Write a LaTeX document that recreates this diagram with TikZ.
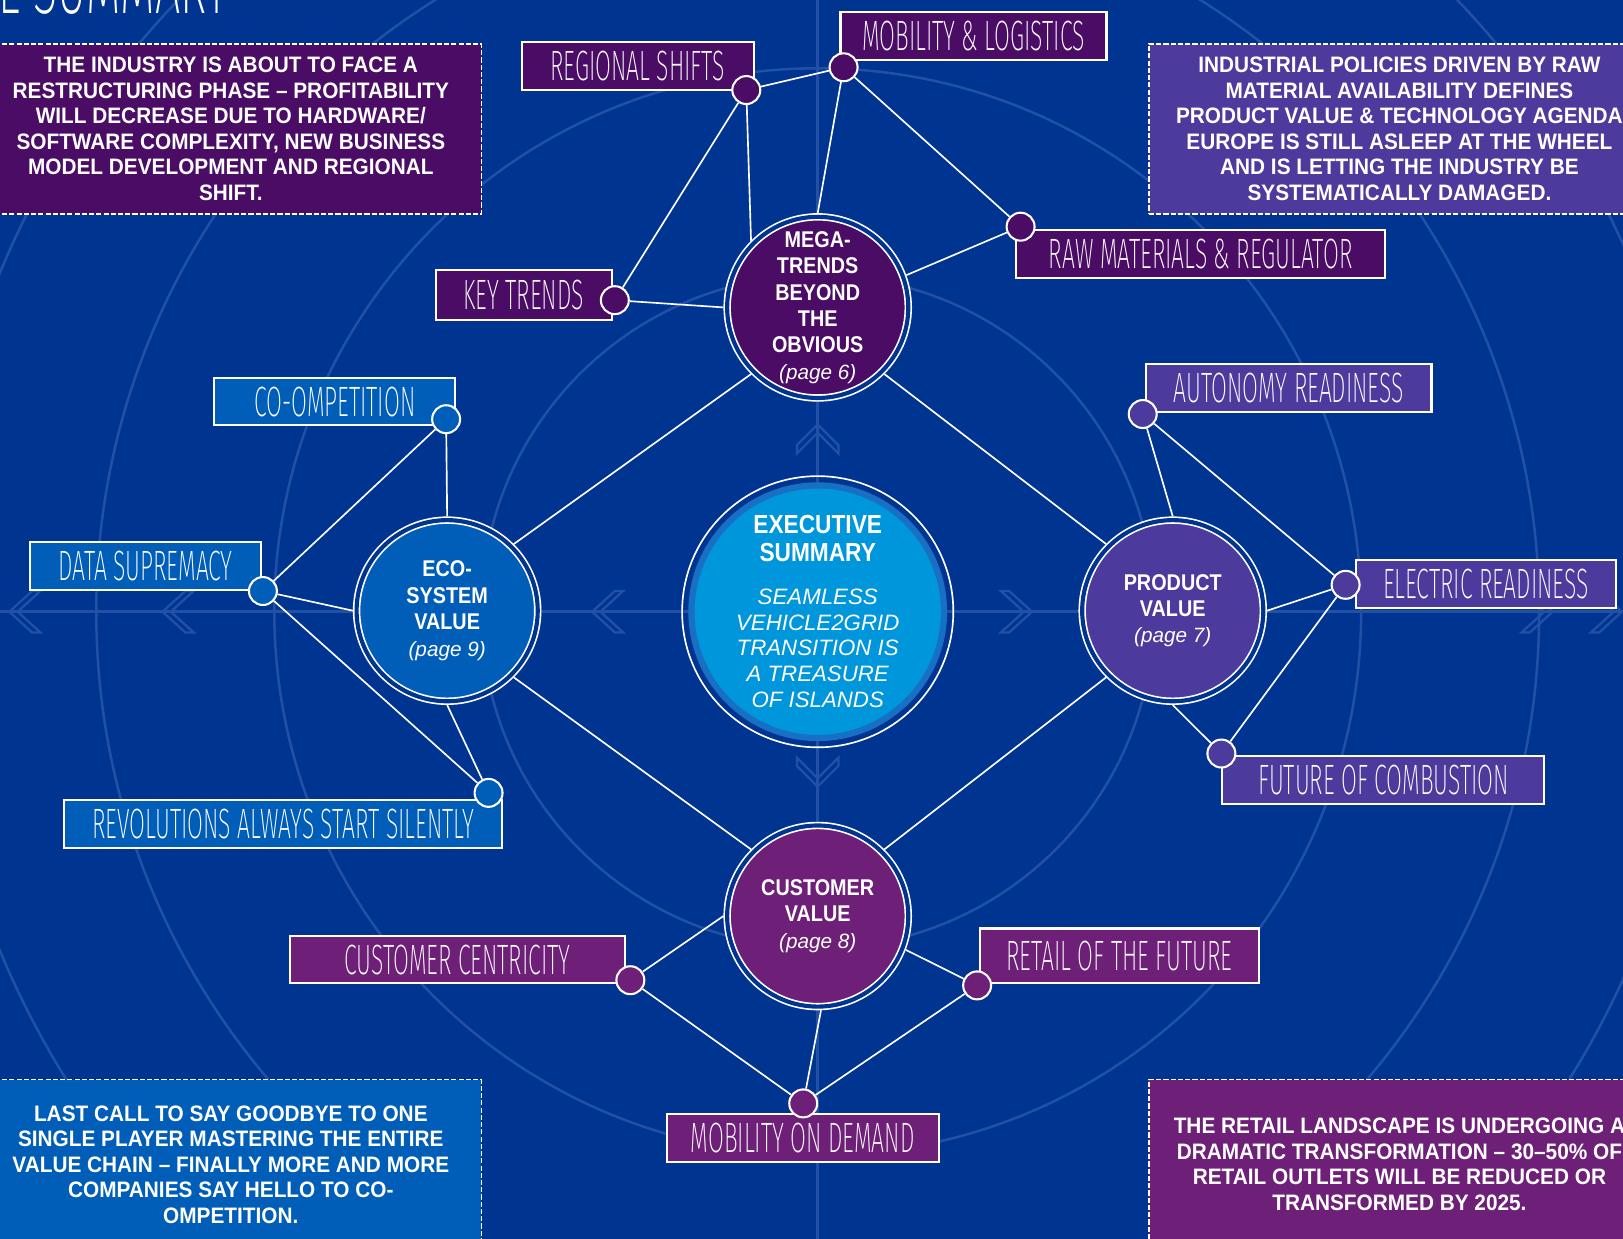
\documentclass[tikz,border=0pt]{standalone}
\usepackage{fontspec}
\setmainfont{Liberation Sans}
\IfFontExistsTF{Fira Sans ExtraLight}
  {\newfontfamily\thinfont{Fira Sans ExtraLight}[FakeStretch=0.54]}
  {\IfFontExistsTF{Fira Sans Light}
    {\newfontfamily\thinfont{Fira Sans Light}[FakeStretch=0.54]}
    {\newfontfamily\thinfont{Fira Sans}[FakeStretch=0.52]}}
\newfontfamily\narrowfont{Liberation Sans}[FakeStretch=0.87]
\newfontfamily\notefont{Liberation Sans}[FakeStretch=0.93]

\definecolor{sfondo}{RGB}{0,52,145}
\definecolor{lineefondo}{RGB}{34,80,165}
\definecolor{viola}{RGB}{74,12,100}
\definecolor{lilla}{RGB}{76,58,156}
\definecolor{prugna}{RGB}{110,32,120}
\definecolor{azzurro}{RGB}{0,94,184}
\definecolor{ciano}{RGB}{0,150,219}
\definecolor{cianoscuro}{RGB}{24,112,196}

\pgfdeclarelayer{fondo}
\pgfdeclarelayer{dietro}
\pgfsetlayers{fondo,dietro,main}

\newcommand\pagina[1]{{\normalfont\itshape\fontsize{10}{12.75}\selectfont(page #1)}}
\newcommand\titolo[1]{{\narrowfont\bfseries\upshape\fontsize{12.6}{13.5}\selectfont #1}}

\begin{document}
\begin{tikzpicture}[x=0.5pt,y=-0.5pt,
    valore/.style={circle, draw=white, double=sfondo, double distance=2pt, line width=0.8pt,
      minimum size=87.5pt, inner sep=0pt, outer sep=1.8pt, align=center, text=white,
      font=\narrowfont\bfseries\fontsize{11}{12.75}\selectfont},
    tema/.style={draw=white, line width=1pt, minimum height=23pt, inner sep=0pt, text=white,
      font=\thinfont\fontsize{20.5}{22}\selectfont},
    punto/.style={circle, draw=white, line width=1pt, minimum size=13.5pt, inner sep=0pt},
    nota/.style={draw=white, dash pattern=on 2.5pt off 1pt, line width=0.75pt,
      minimum width=242pt, minimum height=82pt, inner sep=0pt, align=center, text=white,
      font=\notefont\bfseries\fontsize{10.8}{12.35}\selectfont},
    collega/.style={draw=white, line width=0.8pt},
    traccia/.style={draw=lineefondo, line width=1.2pt},
    freccia/.style={draw=lineefondo, line width=1.1pt}
  ]
  \useasboundingbox (0,0) rectangle (1568,1197);

  % Cerchi principali
  \node[circle, fill=ciano, draw=cianoscuro, line width=3pt, minimum size=122pt, inner sep=0pt,
    align=center, text=white, font=\normalfont\itshape\fontsize{10.75}{12.5}\selectfont]
    (centro) at (790,591) {\titolo{EXECUTIVE}\\[1pt] \titolo{SUMMARY}\\[8pt]
    SEAMLESS\\ VEHICLE2GRID\\ TRANSITION IS\\ A TREASURE\\ OF ISLANDS};
  \draw[white, line width=0.8pt] (centro.center) circle (131);

  \node[valore, fill=viola] (mega) at (790,297) {MEGA-\\TRENDS\\BEYOND\\THE\\OBVIOUS\\\pagina{6}};
  \node[valore, fill=azzurro] (eco) at (432,590) {ECO-\\SYSTEM\\VALUE\\\pagina{9}};
  \node[valore, fill=lilla] (prodotto) at (1133,590) {PRODUCT\\VALUE\\\pagina{7}};
  \node[valore, fill=prugna] (cliente) at (790,885) {CUSTOMER\\VALUE\\\pagina{8}};

  % Temi in alto
  \node[tema, fill=viola, minimum width=112pt] (shifts) at (616,64) {REGIONAL SHIFTS};
  \node[tema, fill=viola, minimum width=128.5pt] (logistics) at (940.5,35) {MOBILITY \& LOGISTICS};
  \node[tema, fill=viola, minimum width=85pt, minimum height=24pt] (trends) at (506,285) {KEY TRENDS};
  \node[tema, fill=viola, minimum width=178pt] (raw) at (1160,245.5) {RAW MATERIALS \& REGULATOR};
  \node[punto, fill=viola] (shiftsdot) at (721,87) {};
  \node[punto, fill=viola] (logisticsdot) at (815,65) {};
  \node[punto, fill=viola] (rawdot) at (986,219) {};
  \node[punto, fill=viola] (trendsdot) at (594,290) {};

  % Temi a sinistra
  \node[tema, fill=azzurro, minimum width=116.5pt] (coomp) at (323.5,388) {CO-OMPETITION};
  \node[tema, fill=azzurro, minimum width=111.5pt] (data) at (140.5,547) {DATA SUPREMACY};
  \node[tema, fill=azzurro, minimum width=211.5pt] (revolutions) at (273.5,796) {REVOLUTIONS ALWAYS START SILENTLY};
  \node[punto, fill=azzurro] (coompdot) at (431,405) {};
  \node[punto, fill=azzurro] (datadot) at (254,571) {};
  \node[punto, fill=azzurro] (revolutionsdot) at (472,766) {};

  % Temi a destra
  \node[tema, fill=lilla, minimum width=138pt] (autonomy) at (1245,375) {AUTONOMY READINESS};
  \node[tema, fill=lilla, minimum width=125.5pt] (electric) at (1435.5,564) {ELECTRIC READINESS};
  \node[tema, fill=lilla, minimum width=155.5pt, minimum height=23.5pt] (combustion) at (1336.5,753.5) {FUTURE OF COMBUSTION};
  \node[punto, fill=lilla] (autonomydot) at (1104,400) {};
  \node[punto, fill=lilla] (electricdot) at (1300,565) {};
  \node[punto, fill=lilla] (combustiondot) at (1180,728) {};

  % Temi in basso
  \node[tema, fill=prugna, minimum width=162pt] (centricity) at (442,927) {CUSTOMER CENTRICITY};
  \node[tema, fill=prugna, minimum width=134.5pt, minimum height=26.5pt] (retail) at (1081.5,923.5) {RETAIL OF THE FUTURE};
  \node[tema, fill=prugna, minimum width=131.5pt, minimum height=23.5pt] (demand) at (775.5,1099.5) {MOBILITY ON DEMAND};
  \node[punto, fill=prugna] (centricitydot) at (609,947) {};
  \node[punto, fill=prugna] (retaildot) at (944,952) {};
  \node[punto, fill=prugna] (demanddot) at (776,1066) {};

  % Collegamenti
  \begin{pgfonlayer}{dietro}
    \draw[collega] (mega.-135) -- (eco.45);
    \draw[collega] (mega.-45) -- (prodotto.135);
    \draw[collega] (eco.-45) -- (cliente.135);
    \draw[collega] (prodotto.-135) -- (cliente.45);

    \draw[collega] (shiftsdot) -- (logisticsdot);
    \draw[collega] (shiftsdot) -- (trendsdot);
    \draw[collega] (shiftsdot) -- (mega.135);
    \draw[collega] (logisticsdot) -- (mega.90);
    \draw[collega] (logisticsdot) -- (rawdot);
    \draw[collega] (rawdot) -- (mega.20);
    \draw[collega] (trendsdot) -- (mega.180);

    \draw[collega] (coompdot) -- (eco.90);
    \draw[collega] (coompdot) -- (datadot);
    \draw[collega] (datadot) -- (eco.180);
    \draw[collega] (datadot) -- (revolutionsdot);
    \draw[collega] (eco.-90) -- (revolutionsdot);

    \draw[collega] (autonomydot) -- (prodotto.90);
    \draw[collega] (autonomydot) -- (electricdot);
    \draw[collega] (prodotto.0) -- (electricdot);
    \draw[collega] (electricdot) -- (combustiondot);
    \draw[collega] (prodotto.-90) -- (combustiondot);

    \draw[collega] (centricitydot) -- (cliente.180);
    \draw[collega] (centricitydot) -- (demanddot);
    \draw[collega] (retaildot) -- (cliente.-21);
    \draw[collega] (retaildot) -- (demanddot);
    \draw[collega] (demanddot) -- (cliente.-88);
  \end{pgfonlayer}

  \begin{pgfonlayer}{fondo}
    % Sfondo
    \fill[sfondo] (-30,-30) rectangle (1600,1230);
    % Cerchi concentrici e assi
    \foreach \r in {325,525,697,855}
      \draw[traccia] (centro.center) circle (\r);
    \draw[traccia] (0,591) -- (1568,591);
    \draw[traccia] (790,0) -- (790,1197);
    % Frecce sugli assi
    \foreach \cx in {9,157,572}
      \draw[freccia] (\cx+22,571) -- (\cx,591) -- (\cx+22,611) -- (\cx+30,611) -- (\cx+8,591) -- (\cx+30,571) -- cycle;
    \foreach \cx in {997,1500,1567}
      \draw[freccia] (\cx-22,571) -- (\cx,591) -- (\cx-22,611) -- (\cx-30,611) -- (\cx-8,591) -- (\cx-30,571) -- cycle;
    \draw[freccia] (770,430) -- (790,410) -- (810,430) -- (810,438) -- (790,418) -- (770,438) -- cycle;
    \draw[freccia] (770,740) -- (790,760) -- (810,740) -- (810,732) -- (790,752) -- (770,732) -- cycle;

    % Note
    \node[nota, fill=viola] (notaNO) at (223,124.5) {THE INDUSTRY IS ABOUT TO FACE A\\
      RESTRUCTURING PHASE – PROFITABILITY\\ WILL DECREASE DUE TO HARDWARE/\\
      SOFTWARE COMPLEXITY, NEW BUSINESS\\ MODEL DEVELOPMENT AND REGIONAL\\ SHIFT.};
    \node[nota, fill=lilla] (notaNE) at (1352,124.5) {INDUSTRIAL POLICIES DRIVEN BY RAW\\
      MATERIAL AVAILABILITY DEFINES\\ PRODUCT VALUE \& TECHNOLOGY AGENDA\\
      EUROPE IS STILL ASLEEP AT THE WHEEL\\ AND IS LETTING THE INDUSTRY BE\\ SYSTEMATICALLY DAMAGED.};
    \node[nota, fill=azzurro] (notaSO) at (223,1125) {LAST CALL TO SAY GOODBYE TO ONE\\
      SINGLE PLAYER MASTERING THE ENTIRE\\ VALUE CHAIN – FINALLY MORE AND MORE\\
      COMPANIES SAY HELLO TO CO-\\ OMPETITION.};
    \node[nota, fill=prugna] (notaSE) at (1352,1125) {THE RETAIL LANDSCAPE IS UNDERGOING A\\
      DRAMATIC TRANSFORMATION – 30–50\% OF\\ RETAIL OUTLETS WILL BE REDUCED OR\\
      TRANSFORMED BY 2025.};

    % Titolo
    \node[anchor=base west, inner sep=0pt, text=white, font=\thinfont\fontsize{40}{42}\selectfont]
      (titolo) at (-2,13) {E SUMMARY};
  \end{pgfonlayer}
\end{tikzpicture}
\end{document}
